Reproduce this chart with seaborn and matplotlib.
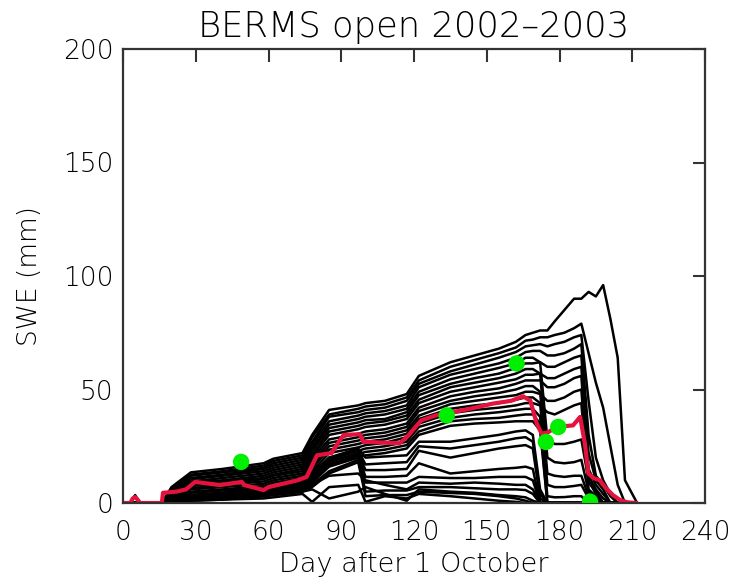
import matplotlib
matplotlib.use("Agg")
import matplotlib.pyplot as plt
import numpy as np
import pandas as pd
import seaborn as sns

# ---------------- data ----------------
days = [0, 3, 5, 7, 16, 20, 28, 41, 58, 62, 74, 78, 85, 97, 100, 108, 117, 122, 135,
        145, 155, 162, 166, 169, 172, 175, 178, 182, 186, 189, 192, 195, 198, 201, 204, 207, 212]

# ensemble members (SWE, mm) on the common day grid
m01 = [0,0,0,0, 0,7,13.5,15,17.5,19.5,22,30,41,43,44,45,48,56,62,65,68,71,74, 75,76,76,80,85,90,90,93,91,96,81,64,10,0]
m02 = [0,0,0,0, 0,6.5,12.5,14,16.5,18.5,21,29,39,41.5,42.5,43.5,46.5,54,60,63,66,68.5,71.5, 72,73,73,74,75,77,79,66,53,42,25,8,0,0]
m03 = [0,0,0,0, 0,6,12,13.5,15.5,17.5,20,27,38,40,41,42,45,52.5,58,61,64,66.5,69, 69.5,70,69,70,71,73,74,45,20,10,4,0,0,0]
m04 = [0,0,0,0, 0,6,11,12.5,15,16.5,19,26,36,38.5,39.5,40.5,43,51,56.5,59,61.5,64,66.5, 67,67,65,65,66,68,70,30,12,8,3,0,0,0]
m05 = [0,0,0,0, 0,5.5,10.5,12,14,15.5,18,24.5,34.5,37,38,39,41.5,49,54.5,57,59.5,61.5,64, 64,62,28,26,26,27,28,10,4,0,0,0,0,0]
m06 = [0,0,0,0, 0,5,9.5,11,13,14.5,17,23.5,33,35.5,36.5,37,40,47.5,52.5,55,57,59.5,61.5, 61.5,62,60,60,62,64,65,22,10,6,0,0,0,0]
m07 = [0,0,0,0, 0,4.5,9,10,12,13.5,16,22,31.5,34,35,36,38.5,45.5,51,53,55,57,59, 59,57,20,18,17.5,18,19,5,2,0,0,0,0,0]
m08 = [0,0,0,0, 0,4,8,9.5,11,12.5,15,20.5,30,32.5,33.5,34.5,37,44,49,51,53,54.5,56.5, 56.5,57,55,55,57,59,60,15,8,4,0,0,0,0]
m09 = [0,0,0,0, 0,4,7.5,8.5,10.5,12,14,19.5,28,30.5,31.5,32.5,35,42,47,49,50.5,52.5,54, 54,54,51,51,52.5,55,56,12,6,2,0,0,0,0]
m10 = [0,0,0,0, 0,3.5,6.5,8,9.5,11,13,18,26.5,29,30,31,33.5,40.5,45,47,48.5,50,51.5, 51.5,49,13,12,11.5,12,12,3,0,0,0,0,0,0]
m11 = [0,0,0,0, 0,3,6,7,8.5,10,12,16.5,25,27.5,28.5,29.5,32,38.5,43.5,45,46.5,47.5,49, 49,48,45,45,46.5,49,50,9,5,0,0,0,0,0]
m12 = [0,0,0,0, 0,2.5,5,6,7.5,9,11,15.5,23.5,26,27,28,30.5,37,41.5,43,44,45.5,46.5, 46.5,44,8,7,7,7.5,8,2,0,0,0,0,0,0]
m13 = [0,0,0,0, 0,2,4.5,5.5,6.5,8,10,14,22,24.5,25.5,26.5,29,35,39.5,41,42,43,44, 44,43,40,39,41,43,44,6,3,0,0,0,0,0]
m14 = [0,0,0,0, 0,2,3.5,4.5,6,7,9,12.5,20,23,24,25,27,33.5,37.5,39,40,41,41.5, 41.5,38,3,2.5,2.6,3,3,0,0,0,0,0,0,0]
m15 = [0,0,0,0, 0,1.5,3,4,5,6,8,11.5,18.5,21.5,22.5,23.5,25.5,31.5,36,37,37.5,38.5,39, 39,35,0,0,0,0,0,0,0,0,0,0,0,0]
m16 = [0,0,0,0, 0,1,2,3,4,5,7,10,17,20,21,22,24,30,34,35,35.5,36,36, 36,32,0,0,0,0,0,0,0,0,0,0,0,0]
# members that lost snow around day 99
m17 = [0,0,0,0, 0,2,3.5,4.5,6,7,9,13,20,24,20,20.5,21,27,27,28.5,30,31.5,32, 30,6,0,0,0,0,0,0,0,0,0,0,0,0]
m18 = [0,0,0,0, 0,1.5,3,4,5.5,6.5,8.5,12,19,23,17,17.5,18,25,24,25.5,27,28.5,29, 27,4,0,0,0,0,0,0,0,0,0,0,0,0]
m19 = [0,0,0,0, 0,1.5,2.5,3.5,5,6,8,11,18,22,14.5,14.5,15,23,20,22,24,25,25.5, 24,2,0,0,0,0,0,0,0,0,0,0,0,0]
m20 = [0,0,0,0, 0,1,2.5,3,4.5,5.5,7.5,10,17,21,11.5,11.5,12,17.5,13,14,15,15.5,16, 15,0,0,0,0,0,0,0,0,0,0,0,0,0]
m21 = [0,0,0,0, 0,1,2,2.5,4,5,7,9,16,20,9,9,9,11.5,11,11,11.5,11.5,11.5, 10,0,0,0,0,0,0,0,0,0,0,0,0,0]
m22 = [0,0,0,0, 0,0.5,1.5,2,3.5,4,6,8,14,19,5,5.5,5.5,7,7,6.5,6,6,5.7, 4,0,0,0,0,0,0,0,0,0,0,0,0,0]
m23 = [0,0,0,0, 0,0.5,1,1.5,3,3.5,5,7,13,18,3,3.5,3.5,5,4.4,4,3,2,1, 0,0,0,0,0,0,0,0,0,0,0,0,0,0]
# shallow members near the ground
m24 = [0,0,3.5,0, 0,0.5,1,1.5,2,2.5,4,0.5,7,8,0.5,3,2,4,3,2,1,0.5,0, 0,0,0,0,0,0,0,0,0,0,0,0,0,0]
m25 = [0,0,0,0, 0,0.5,1.5,2,3,3.5,5,6,2,5,7,4,1,6,5,4.5,3.5,3,2.5, 1,0,0,0,0,0,0,0,0,0,0,0,0,0]
m26 = [0,0,0,0, 0,1,2.5,3,3.5,4,6,8,12,13,10,8,6,9,8.5,9,8.5,8,8, 6,0,0,0,0,0,0,0,0,0,0,0,0,0]

members = {"m01": m01, "m02": m02, "m03": m03, "m04": m04, "m05": m05, "m06": m06,
           "m07": m07, "m08": m08, "m09": m09, "m10": m10, "m11": m11, "m12": m12,
           "m13": m13, "m14": m14, "m15": m15, "m16": m16, "m17": m17, "m18": m18,
           "m19": m19, "m20": m20, "m21": m21, "m22": m22, "m23": m23, "m24": m24,
           "m25": m25, "m26": m26}

# red reference run
red_days = [0, 3, 4, 5, 6, 7, 16, 16.5, 22, 26, 29.7, 40, 49, 50, 58, 60, 66, 72, 75.7, 80,
            86, 89, 91, 97.7, 99, 114, 117, 123, 129, 133, 143, 152.6, 160, 165, 168, 170.6,
            172.6, 175, 178.8, 185.6, 188.5, 190.5, 191.9, 194, 196.7, 198.8, 202, 205, 208, 211.8]
red_swe = [0, 0, 2, 2.6, 1.5, 0, 0, 4.5, 5, 6, 9.3, 7.9, 9.3, 7.9, 5.7, 7, 8.5, 10, 11.5, 21,
           22, 27, 30, 30.3, 27, 26.3, 29, 36.4, 38.6, 39.4, 41.5, 43.8, 45, 47, 45, 35,
           30.6, 31, 33.5, 34.2, 37.9, 26, 13, 11, 10, 7, 3.5, 1.3, 0.3, 0]

# observations
obs_days = [48.7, 133.5, 162.3, 174.4, 179.5, 192.6]
obs_swe = [18.1, 38.6, 61.5, 26.9, 33.5, 0.6]

x_ticks = [0, 30, 60, 90, 120, 150, 180, 210, 240]
y_ticks = [0, 50, 100, 150, 200]

for k, v in members.items():
    assert len(v) == len(days), (k, len(v))
assert len(red_days) == len(red_swe)

# ---------------- plot ----------------
sns.set_theme(style="white")
plt.rcParams["font.family"] = ["DejaVu Sans"]
plt.rcParams["font.weight"] = "light"
plt.rcParams["axes.titleweight"] = "light"
plt.rcParams["axes.labelweight"] = "light"

fig = plt.figure(figsize=(7.31, 5.8), dpi=100)
W, H = 731, 580
ax = fig.add_axes([123 / W, 1 - 503 / H, (705 - 123) / W, (503 - 49) / H])

rows = []
for name, vals in members.items():
    for d, v in zip(days, vals):
        rows.append((name, d, v))
df = pd.DataFrame(rows, columns=["member", "day", "swe"])

sns.lineplot(data=df, x="day", y="swe", units="member", estimator=None,
             color="black", lw=1.8, ax=ax, legend=False, sort=False)
sns.lineplot(x=red_days, y=red_swe, color="#e5123d", lw=3.0, ax=ax,
             estimator=None, sort=False)
sns.scatterplot(x=obs_days, y=obs_swe, color="#00ee00", s=140, edgecolor="none",
                ax=ax, zorder=5)

ax.set_xlim(0, 240)
ax.set_ylim(0, 200)
ax.set_xticks(x_ticks)
ax.set_yticks(y_ticks)
ax.tick_params(direction="in", length=9, width=1.5, top=True, right=True,
               labelsize=19, colors="#333333", labelcolor="#000000")
ax.tick_params(axis="x", pad=12)
ax.tick_params(axis="y", pad=7)
for s in ax.spines.values():
    s.set_linewidth(1.6)
    s.set_color("#333333")

ax.set_title("BERMS open 2002–2003", fontsize=25.5, pad=9, color="#000000",
             fontweight="light")
ax.set_xlabel("Day after 1 October", fontsize=19.5, color="#000000", labelpad=5,
              fontweight="light")
ax.set_ylabel("SWE (mm)", fontsize=19, color="#000000", fontweight="light")
ax.yaxis.set_label_coords(-0.14, 0.5)

fig.savefig("out.png", dpi=100)
